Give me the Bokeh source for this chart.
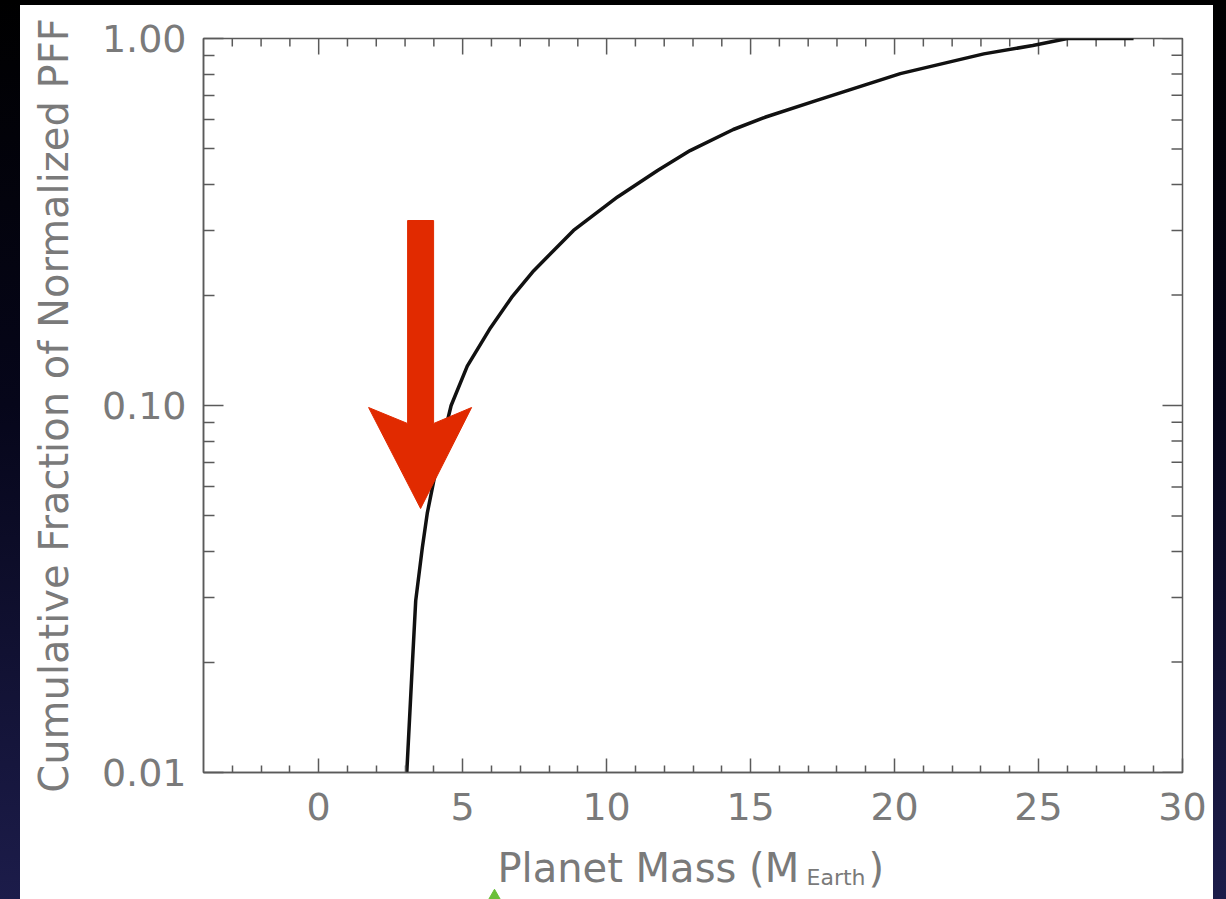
import numpy as np
from bokeh.plotting import figure
from bokeh.models import (Range1d, FixedTicker, PrintfTickFormatter, ColumnDataSource)
from bokeh.core.properties import value
from bokeh.layouts import column
from bokeh.embed import file_html
from bokeh.resources import INLINE

# ---- data ----
planet_mass = [3.06, 3.25, 3.37, 3.60, 3.77, 4.00, 4.30, 4.60, 5.16, 5.97, 6.70, 7.47, 8.85,
               10.38, 11.77, 12.90, 14.40, 15.50, 17.30, 20.20, 23.10, 24.80, 26.00, 28.30]
cum_fraction = [0.010, 0.0195, 0.0294, 0.041, 0.0508, 0.0625, 0.080, 0.100, 0.128, 0.163, 0.197,
                0.233, 0.300, 0.370, 0.437, 0.495, 0.565, 0.610, 0.678, 0.802, 0.908, 0.957,
                1.0, 1.0]
x_major_ticks = [-5, 0, 5, 10, 15, 20, 25, 30]
x_minor_ticks = [-3, -2, -1, 1, 2, 3, 4, 6, 7, 8, 9, 11, 12, 13, 14, 16, 17, 18, 19,
                 21, 22, 23, 24, 26, 27, 28, 29]
y_major_ticks = [0.01, 0.1, 1.0]
y_minor_ticks = [0.02, 0.03, 0.04, 0.05, 0.06, 0.07, 0.08, 0.09,
                 0.2, 0.3, 0.4, 0.5, 0.6, 0.7, 0.8, 0.9]
x_title = "Planet Mass (M"
x_title_sub = "Earth"
x_title_end = ")"
y_title = "Cumulative Fraction of Normalized PFF"

# ---- arrow annotation anchor (data coords) ----
arrow_x = 3.54
arrow_tip = 0.0524

FONT = "DejaVu Sans"
TXT = "#7a7a7a"
AX = "#5a5a5a"

X0, X1 = -4, 30
Y0, Y1 = 0.01, 1.0
FW, FH = 979, 734  # frame size in px
px_per_x = FW / (X1 - X0)
px_per_dec = FH / (np.log10(Y1) - np.log10(Y0))

p = figure(width=1193, height=835, output_backend="svg", toolbar_location=None,
           x_range=Range1d(X0, X1), y_range=Range1d(Y0, Y1), y_axis_type="log",
           min_border_left=183, min_border_right=31, min_border_top=33, min_border_bottom=68,
           background_fill_color="white", border_fill_color="white",
           outline_line_color=AX, outline_line_width=1.5)
p.grid.visible = False


def style_axis(ax, tick_in, minor_in):
    ax.axis_line_color = AX
    ax.axis_line_width = 1.5
    ax.major_tick_line_color = AX
    ax.minor_tick_line_color = AX
    ax.major_tick_line_width = 1.5
    ax.minor_tick_line_width = 1.5
    ax.major_tick_in = tick_in
    ax.major_tick_out = 0
    ax.minor_tick_in = minor_in
    ax.minor_tick_out = 0
    ax.major_label_text_font = FONT
    ax.major_label_text_font_size = "38px"
    ax.major_label_text_color = TXT


xb = p.xaxis[0]
xb.ticker = FixedTicker(ticks=x_major_ticks, minor_ticks=x_minor_ticks)
style_axis(xb, 14, 7)
xb.major_label_standoff = 20

yl = p.yaxis[0]
yl.ticker = FixedTicker(ticks=y_major_ticks, minor_ticks=y_minor_ticks)
yl.formatter = PrintfTickFormatter(format="%.2f")
style_axis(yl, 20, 11)
yl.major_label_standoff = 17
yl.axis_label = y_title
yl.axis_label_text_font = FONT
yl.axis_label_text_font_size = "40px"
yl.axis_label_text_font_style = "normal"
yl.axis_label_text_color = TXT
yl.axis_label_standoff = 22

# ticks on the top and right frame edges (inward), drawn as segments
top_major_len, top_minor_len = 16, 8
right_major_len, right_minor_len = 20, 11
ylog1 = np.log10(Y1)
p.segment(x0=x_major_ticks, y0=[Y1] * len(x_major_ticks), x1=x_major_ticks,
          y1=[10 ** (ylog1 - top_major_len / px_per_dec)] * len(x_major_ticks),
          line_color=AX, line_width=1.5)
p.segment(x0=x_minor_ticks, y0=[Y1] * len(x_minor_ticks), x1=x_minor_ticks,
          y1=[10 ** (ylog1 - top_minor_len / px_per_dec)] * len(x_minor_ticks),
          line_color=AX, line_width=1.5)
p.segment(x0=[X1] * len(y_major_ticks), y0=y_major_ticks,
          x1=[X1 - right_major_len / px_per_x] * len(y_major_ticks), y1=y_major_ticks,
          line_color=AX, line_width=1.5)
p.segment(x0=[X1] * len(y_minor_ticks), y0=y_minor_ticks,
          x1=[X1 - right_minor_len / px_per_x] * len(y_minor_ticks), y1=y_minor_ticks,
          line_color=AX, line_width=1.5)

# curve
src = ColumnDataSource(dict(x=planet_mass, y=cum_fraction))
p.line("x", "y", source=src, line_color="#111111", line_width=3.5, line_join="round")

# red arrow (polygon built from pixel offsets relative to the tip)
offs_dx = np.array([-13, 13, 13, 51, 0, -52, -13])
offs_dy = np.array([288, 288, 85, 101, 0, 101, 85])
arr_x = arrow_x + offs_dx / px_per_x
arr_y = 10 ** (np.log10(arrow_tip) + offs_dy / px_per_dec)
p.patch(list(arr_x), list(arr_y), fill_color="#e12a00", line_color="#e12a00", line_width=1)

# ---- strip below holding the x-axis title (same x scale as the plot, y in px) ----
STRIP_H = 59
p2 = figure(width=1193, height=STRIP_H, output_backend="svg", toolbar_location=None,
            title=None,
            x_range=Range1d(X0, X1), y_range=Range1d(0, STRIP_H),
            min_border_left=183, min_border_right=31, min_border_top=0, min_border_bottom=0,
            background_fill_color="white", border_fill_color="white",
            outline_line_color=None)
p2.axis.visible = False
p2.grid.visible = False


def x_of(page_px):
    return X0 + (page_px - 203) / px_per_x


p2.text(x=[x_of(497)], y=[32], text=[x_title], text_font=value(FONT), text_font_size="40px",
        text_color=TXT, text_align="left", text_baseline="alphabetic")
p2.text(x=[x_of(806)], y=[22], text=[x_title_sub], text_font=value(FONT), text_font_size="22px",
        text_color=TXT, text_align="left", text_baseline="alphabetic")
p2.text(x=[x_of(868)], y=[32], text=[x_title_end], text_font=value(FONT), text_font_size="40px",
        text_color=TXT, text_align="left", text_baseline="alphabetic")
# small green marker at the very bottom edge
p2.scatter(x=[x_of(494)], y=[1], marker="triangle", size=16, fill_color="#6cbf3a",
           line_color="#6cbf3a")

panel = column(p, p2, width=1193, height=894, spacing=0, styles={"background": "white"})
panel.margin = (5, 13, 0, 20)

layout = column(panel, width=1226, height=899,
                styles={"background": "linear-gradient(to bottom, #000000 0%, #06061a 45%, #1c1c4a 100%)",
                        "margin": "0px"})

open("out.html", "w").write(file_html(layout, INLINE))
